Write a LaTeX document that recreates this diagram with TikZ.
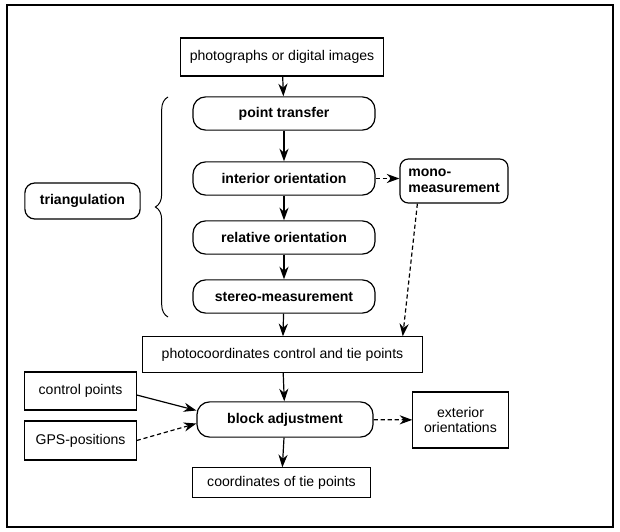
\documentclass[tikz,border=0pt]{standalone}
\usepackage{fontspec}
\setmainfont{Liberation Sans}
\usetikzlibrary{ arrows.meta,                % For stealth tips
                 calc,                       % For shifted end points
                 decorations.pathreplacing,  % For the brace
               }

\begin{document}
\begin{tikzpicture}[x=0.025cm, y=-0.025cm,
    box/.style={draw, line width=0.85pt, inner sep=1pt, align=center,
                font=\fontsize{10}{11}\selectfont},
    roundbox/.style={box, rounded corners=9pt,
                font=\fontsize{10}{11}\selectfont\bfseries},
    arr/.style={-{Stealth[length=9pt,width=6.5pt]}, line width=0.85pt},
    dasharr/.style={arr, dash pattern=on 3pt off 2pt}]
    \useasboundingbox (0,0) rectangle (620,532);
    \draw[line width=1.1pt] (7,5) rectangle (613,527);

    \node[box, minimum width=5.08cm, minimum height=0.95cm] (photo) at (282,57) {photographs or digital images};
    \node[roundbox, minimum width=4.55cm, minimum height=0.83cm] (transfer) at (284,113.5) {point transfer};
    \node[roundbox, minimum width=4.55cm, minimum height=0.83cm] (interior) at (284,178.5) {interior orientation};
    \node[roundbox, minimum width=4.55cm, minimum height=0.83cm] (relative) at (284,237.5) {relative orientation};
    \node[roundbox, minimum width=4.55cm, minimum height=0.83cm] (stereo) at (284,296.5) {stereo-measurement};
    \node[roundbox, rounded corners=6pt, align=left, minimum width=2.7cm, minimum height=1.1cm] (mono) at (454,181) {mono-\\measurement};
    \node[roundbox, rounded corners=7pt, minimum width=2.88cm, minimum height=0.9cm] (triang) at (82.5,201) {triangulation};
    \node[box, minimum width=6.98cm, minimum height=0.88cm] (photoco) at (282.5,354.5) {photocoordinates control and tie points};
    \node[box, minimum width=2.78cm, minimum height=0.95cm] (ctrl) at (80.5,391) {control points};
    \node[box, minimum width=2.78cm, minimum height=0.97cm] (gps) at (80.5,440.5) {GPS-positions};
    \node[roundbox, minimum width=4.4cm, minimum height=0.88cm] (block) at (285,419.5) {block adjustment};
    \node[box, minimum width=2.38cm, minimum height=1.4cm] (exterior) at (460.5,420) {exterior\\orientations};
    \node[box, minimum width=4.43cm, minimum height=0.73cm] (tie) at (281.5,482.5) {coordinates of tie points};

    % the brace in front of the four steps
    \draw[line width=0.7pt, decorate, decoration={brace, amplitude=9pt}] (168,317) -- (168,97);

    \draw[arr] (photo) -- (transfer);
    \draw[arr] (transfer) -- (interior);
    \draw[arr] (interior) -- (relative);
    \draw[arr] (relative) -- (stereo);
    \draw[arr] (stereo) -- (photoco);
    \draw[dasharr] (interior.east) -- (interior.east -| mono.west);
    \draw[dasharr] ($(mono.south west)+(18,0)$) -- ($(photoco.north east)+(-20,0)$);
    \draw[arr] (photoco) -- (block);
    \draw[arr] ($(ctrl.east)+(0,4)$) -- ($(block.west)+(0,-9)$);
    \draw[dasharr] (gps.east) -- ($(block.west)+(0,4)$);
    \draw[dasharr] (block) -- (exterior);
    \draw[arr] (block) -- (tie);
\end{tikzpicture}
\end{document}
